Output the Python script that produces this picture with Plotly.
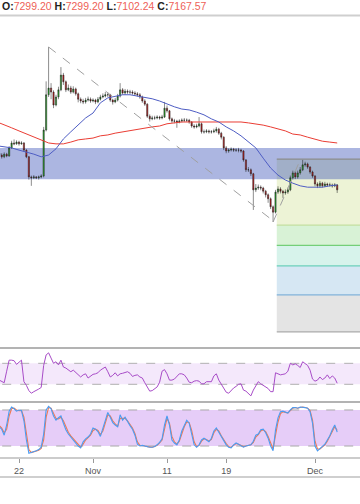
import plotly.graph_objects as go
import pandas as pd

W, H = 360, 504

# ---------------- data ----------------
bar_start = "2019-10-19 08:00"          # 8-hour candles
n_bars = 138
times = pd.date_range(bar_start, periods=n_bars, freq="8h")

first_open = 7990
close = [7950, 7910, 7970, 7930, 8110, 8220, 8200, 8240, 8200, 8220,
         8060, 7910, 7460, 7440, 7460, 7440, 7460, 7480, 8510, 9300,
         9450, 9360, 9070, 9250, 9410, 9740, 9590, 9410, 9450, 9360,
         9430, 9320, 9200, 9160, 9140, 9180, 9200, 9160, 9180, 9140,
         9200, 9250, 9270, 9300, 9300, 9180, 9140, 9180, 9270, 9410,
         9340, 9380, 9360, 9360, 9340, 9320, 9300, 9250, 9160, 9090,
         8820, 8760, 8780, 8780, 8800, 8780, 8800, 9000, 8940, 8760,
         8710, 8710, 8690, 8710, 8730, 8730, 8730, 8690, 8600, 8580,
         8600, 8650, 8470, 8470, 8490, 8470, 8470, 8490, 8530, 8440,
         8350, 8110, 8040, 8060, 8080, 8060, 8060, 8060, 8040, 7840,
         7620, 7620, 7530, 7170, 7210, 7230, 7210, 7140, 7060, 6970,
         6790, 6670, 7120, 7190, 7140, 7100, 7120, 7170, 7440, 7550,
         7460, 7550, 7620, 7730, 7750, 7680, 7570, 7480, 7300, 7260,
         7320, 7260, 7300, 7280, 7280, 7260, 7280, 7170]
high = [8030, 7990, 8010, 8000, 8150, 8270, 8300, 8280, 8270, 8260,
        8240, 8080, 7930, 7490, 7500, 7480, 7490, 7520, 8580, 9600,
        10370, 9560, 9400, 9300, 9480, 9920, 9790, 9620, 9530, 9500,
        9490, 9460, 9350, 9240, 9210, 9230, 9260, 9240, 9220, 9210,
        9250, 9300, 9330, 9360, 9350, 9320, 9210, 9230, 9320, 9560,
        9450, 9430, 9420, 9410, 9400, 9380, 9360, 9340, 9280, 9200,
        9110, 8860, 8830, 8830, 8840, 8830, 8850, 9140, 9060, 8960,
        8790, 8760, 8740, 8750, 8770, 8780, 8770, 8760, 8710, 8640,
        8650, 8800, 8680, 8520, 8530, 8520, 8510, 8540, 8580, 8560,
        8470, 8370, 8150, 8100, 8120, 8110, 8100, 8110, 8090, 8060,
        7860, 7680, 7650, 7550, 7300, 7290, 7270, 7240, 7170, 7090,
        7000, 6820, 7170, 7250, 7230, 7170, 7180, 7220, 7490, 7600,
        7590, 7600, 7680, 7840, 7800, 7780, 7700, 7600, 7500, 7340,
        7370, 7350, 7350, 7330, 7330, 7310, 7320, 7300]
low = [7910, 7870, 7880, 7900, 7910, 8090, 8170, 8180, 8160, 8180,
       8030, 7880, 7400, 7260, 7410, 7410, 7400, 7430, 7450, 8480,
       9250, 9200, 9000, 9040, 9200, 9380, 9520, 9360, 9380, 9320,
       9330, 9280, 9130, 9110, 9090, 9100, 9150, 9120, 9130, 9090,
       9110, 9170, 9220, 9240, 9250, 9140, 9080, 9110, 9150, 9240,
       9300, 9300, 9320, 9310, 9300, 9280, 9260, 9210, 9120, 9050,
       8780, 8700, 8730, 8740, 8750, 8740, 8750, 8780, 8900, 8720,
       8670, 8660, 8560, 8660, 8680, 8690, 8690, 8650, 8560, 8540,
       8550, 8570, 8430, 8430, 8440, 8430, 8430, 8440, 8450, 8400,
       8300, 8060, 7990, 8000, 8030, 8020, 8020, 8010, 8000, 7800,
       7570, 7570, 7480, 6720, 7120, 7170, 7160, 7090, 7000, 6880,
       6740, 6450, 6640, 7080, 7090, 6990, 7060, 7080, 7140, 7400,
       7410, 7420, 7510, 7590, 7690, 7640, 7530, 7440, 7250, 7210,
       7220, 7220, 7230, 7240, 7240, 7220, 7230, 7100]
open_ = [first_open] + close[:-1]

# moving averages (read at daily points)
ma_dates = ["2019-10-19 08:00"] + [d.strftime("%Y-%m-%d") for d in pd.date_range("2019-10-20", "2019-12-04", freq="D")]
ma_slow = [8670, 8620, 8560, 8490, 8420, 8350, 8290, 8220, 8200, 8200,
           8240, 8290, 8310, 8330, 8380, 8400, 8440, 8470, 8490, 8530,
           8560, 8580, 8600, 8650, 8670, 8690, 8690, 8690, 8690, 8690,
           8690, 8690, 8690, 8690, 8670, 8650, 8620, 8580, 8530, 8490,
           8420, 8400, 8350, 8310, 8260, 8240, 8220]
ma_fast = [8150, 8130, 8110, 8060, 8020, 7970, 7910, 7950, 8090, 8310,
           8470, 8620, 8780, 8890, 9120, 9230, 9270, 9300, 9300, 9270,
           9250, 9210, 9160, 9090, 9030, 8980, 8960, 8910, 8850, 8760,
           8690, 8580, 8490, 8380, 8240, 8110, 7880, 7660, 7500, 7390,
           7320, 7260, 7230, 7230, 7230, 7260, 7280]

rsi = [38, 35, 33, 55, 76, 76, 75, 68, 73, 76,
       35, 28, 18, 13, 16, 18, 21, 24, 66, 86,
       90, 80, 70, 73, 67, 76, 63, 61, 58, 54,
       57, 53, 48, 44, 48, 50, 42, 46, 49, 50,
       52, 57, 60, 63, 54, 44, 47, 52, 46, 50,
       51, 53, 54, 51, 45, 47, 48, 44, 42, 33,
       25, 17, 18, 21, 25, 34, 55, 58, 50, 38,
       38, 40, 45, 50, 50, 48, 42, 34, 33, 36,
       37, 36, 31, 31, 35, 35, 35, 46, 50, 38,
       31, 22, 15, 13, 19, 23, 26, 30, 31, 19,
       17, 12, 8, 19, 28, 35, 31, 28, 26, 22,
       16, 16, 52, 50, 48, 49, 50, 55, 70, 67,
       69, 66, 62, 73, 70, 66, 57, 40, 36, 38,
       44, 39, 42, 48, 41, 46, 42, 32]

stoch_k = [52, 48, 38, 55, 78, 85, 82, 78, 80, 79,
           62, 30, 8, 9, 11, 12, 14, 18, 40, 80,
           86, 82, 70, 63, 67, 70, 58, 47, 40, 35,
           30, 25, 20, 17, 27, 32, 35, 40, 50, 48,
           44, 36, 50, 62, 76, 68, 59, 55, 52, 72,
           63, 68, 60, 54, 48, 38, 23, 20, 21, 20,
           18, 18, 18, 19, 22, 26, 32, 55, 70, 55,
           30, 25, 22, 30, 45, 55, 63, 58, 42, 22,
           18, 22, 30, 33, 30, 27, 33, 45, 50, 43,
           35, 28, 22, 18, 17, 22, 25, 23, 21, 18,
           20, 21, 22, 28, 38, 40, 47, 48, 42, 33,
           20, 12, 47, 67, 77, 78, 76, 75, 80, 84,
           84, 83, 85, 85, 84, 83, 77, 58, 20, 12,
           16, 20, 23, 30, 37, 47, 55, 43]
stoch_d = [54, 50, 42, 48, 70, 82, 83, 80, 79, 79,
           68, 40, 14, 9, 10, 12, 13, 16, 30, 68,
           84, 83, 74, 66, 65, 68, 62, 51, 43, 37,
           32, 27, 22, 18, 23, 30, 34, 38, 46, 48,
           46, 39, 45, 57, 72, 70, 62, 57, 53, 66,
           66, 66, 62, 56, 50, 41, 27, 21, 21, 20,
           19, 18, 18, 19, 21, 25, 30, 48, 66, 58,
           36, 27, 23, 28, 40, 52, 60, 59, 46, 27,
           19, 21, 28, 32, 31, 28, 31, 42, 48, 45,
           37, 30, 24, 19, 18, 21, 24, 23, 21, 19,
           20, 21, 22, 26, 35, 39, 45, 47, 44, 36,
           24, 15, 38, 60, 74, 77, 76, 75, 79, 83,
           84, 83, 84, 85, 84, 83, 79, 63, 28, 15,
           15, 19, 22, 28, 35, 44, 52, 46]

tick_dates = ["2019-10-22", "2019-11-01", "2019-11-11", "2019-11-19", "2019-12-01"]
tick_text = ["22", "Nov", "11", "19", "Dec"]

zone_top, zone_bottom = 8110, 7410           # support/resistance band
fib_start = "2019-11-25 20:00"
fib_0, fib_1 = 7860, 3990
fib_levels = [0, 0.382, 0.5, 0.618, 0.786, 1]
fib_fill = ["#edf3d6", "#d8f2d6", "#d7f3eb", "#d6e7f3", "#e4e4e4"]
fib_line = ["#8c8c8c", "#c4dfa0", "#74cf78", "#6ad0b9", "#7fb2da", "#aaaaaa"]

trend_down = (("2019-10-26 00:00", 10370), ("2019-11-25 04:00", 6500))
trend_up = (("2019-11-25 08:00", 6450), ("2019-11-29 00:00", 7840))

header = [("O:", "7299.20"), ("H:", "7299.20"), ("L:", "7102.24"), ("C:", "7167.57")]

x_range = ["2019-10-19 10:23", "2019-12-07 01:57"]
far_left, far_right = "2019-10-10", "2019-12-12"

# ---------------- layout geometry (px from top) ----------------
def py(px):
    return 1 - px / H

main_dom = [py(348), py(16)]
rsi_dom = [py(402), py(348)]
sto_dom = [py(458), py(402)]

FONT = "Liberation Sans, Arial, sans-serif"

fig = go.Figure()

fig.add_trace(go.Candlestick(
    x=times, open=open_, high=high, low=low, close=close,
    increasing=dict(line=dict(color="#1b1b1b", width=0.5), fillcolor="#2ba82b"),
    decreasing=dict(line=dict(color="#1b1b1b", width=0.5), fillcolor="#c02020"),
    whiskerwidth=0, showlegend=False, hoverinfo="skip", xaxis="x", yaxis="y"))

fig.add_trace(go.Scatter(x=ma_dates, y=ma_slow, mode="lines",
                         line=dict(color="#ea3d34", width=1), hoverinfo="skip", yaxis="y"))
fig.add_trace(go.Scatter(x=ma_dates, y=ma_fast, mode="lines",
                         line=dict(color="#4e5dc4", width=1), hoverinfo="skip", yaxis="y"))

fig.add_trace(go.Scatter(x=times, y=rsi, mode="lines",
                         line=dict(color="#a84cc8", width=1), hoverinfo="skip", yaxis="y2"))
fig.add_trace(go.Scatter(x=times, y=stoch_d, mode="lines",
                         line=dict(color="#f2774f", width=1.1), hoverinfo="skip", yaxis="y3"))
fig.add_trace(go.Scatter(x=times, y=stoch_k, mode="lines",
                         line=dict(color="#4b9cf2", width=1.1), hoverinfo="skip", yaxis="y3"))

shapes = []
# fib zones
lv = [fib_0 - r * (fib_0 - fib_1) for r in fib_levels]
for i in range(len(lv) - 1):
    shapes.append(dict(type="rect", xref="x", yref="y", x0=fib_start, x1=far_right,
                       y0=lv[i + 1], y1=lv[i], fillcolor=fib_fill[i],
                       line=dict(width=0), layer="below"))
# support band (axis-referenced so it blends over the fib zones)
shapes.append(dict(type="rect", xref="x", yref="y", x0=far_left, x1=far_right,
                   y0=zone_bottom, y1=zone_top, fillcolor="rgba(48,72,180,0.40)",
                   line=dict(width=0), layer="below"))
for i, v in enumerate(lv):
    shapes.append(dict(type="line", xref="x", yref="y", x0=fib_start, x1=far_right,
                       y0=v, y1=v, line=dict(color=fib_line[i], width=1.2), layer="below"))
# trend lines
for (a, b) in (trend_down, trend_up):
    shapes.append(dict(type="line", xref="x", yref="y", x0=a[0], y0=a[1], x1=b[0], y1=b[1],
                       line=dict(color="#a0a0a0", width=1, dash="dash"), layer="above"))
# RSI band
shapes.append(dict(type="rect", xref="x", yref="y2", x0=far_left, x1=far_right, y0=30, y1=70,
                   fillcolor="#f4e8fb", line=dict(width=0), layer="below"))
for v in (30, 70):
    shapes.append(dict(type="line", xref="x", yref="y2", x0=far_left, x1=far_right, y0=v, y1=v,
                       line=dict(color="#b0b0b0", width=1, dash="dash"), layer="below"))
# Stoch band
shapes.append(dict(type="rect", xref="x", yref="y3", x0=far_left, x1=far_right, y0=20, y1=80,
                   fillcolor="#e6cdf8", line=dict(width=0), layer="below"))
for v in (20, 80):
    shapes.append(dict(type="line", xref="x", yref="y3", x0=far_left, x1=far_right, y0=v, y1=v,
                       line=dict(color="#a8a8a8", width=1, dash="dash"), layer="below"))
# pane borders
for ypx, col, wdt in ((15.5, "#cfcfcf", 2), (348, "#9a9a9a", 1.5), (402, "#9a9a9a", 1.5),
                      (458, "#9a9a9a", 1.2), (477, "#cfcfcf", 2.2)):
    shapes.append(dict(type="line", xref="paper", yref="paper", x0=0, x1=1,
                       y0=py(ypx), y1=py(ypx), line=dict(color=col, width=wdt), layer="above"))

header_txt = " ".join(
    f"<b>{k}</b><span style='color:#ee5f58'>{v}</span>" for k, v in header)

fig.update_layout(
    width=W, height=H, margin=dict(l=0, r=0, t=0, b=0),
    paper_bgcolor="white", plot_bgcolor="white", showlegend=False,
    shapes=shapes,
    annotations=[dict(text=header_txt, xref="paper", yref="paper", x=0, y=py(6.5),
                      xanchor="left", yanchor="middle", xshift=0, showarrow=False,
                      font=dict(family=FONT, size=10.5, color="#222"))],
    xaxis=dict(type="date", range=x_range, anchor="y3", showgrid=False, zeroline=False,
               showline=False, ticks="outside", ticklen=4, tickcolor="#999", tickwidth=1,
               tickvals=tick_dates, ticktext=tick_text,
               tickfont=dict(family=FONT, size=9, color="#555"),
               rangeslider=dict(visible=False), fixedrange=True),
    yaxis=dict(domain=main_dom, range=[3628, 11064], visible=False, fixedrange=True),
    yaxis2=dict(domain=rsi_dom, range=[-3.7, 99.2], visible=False, fixedrange=True),
    yaxis3=dict(domain=sto_dom, range=[0, 93.3], visible=False, fixedrange=True),
)

fig.write_html("out.html")
